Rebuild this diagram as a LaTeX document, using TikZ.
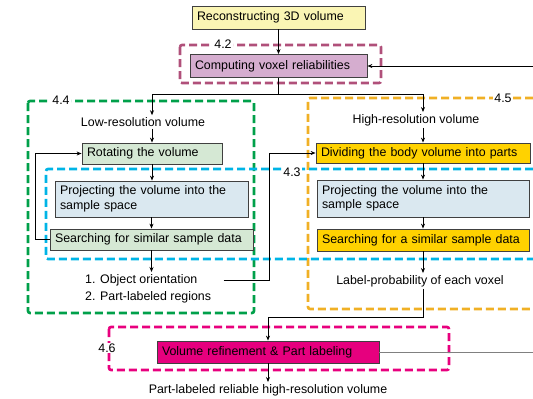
\documentclass[tikz,border=0pt]{standalone}
\usepackage{fontspec}
\setmainfont{Liberation Sans}
\usetikzlibrary{arrows.meta}

\definecolor{reconfill}{HTML}{FAF5B4}
\definecolor{compfill}{HTML}{D5ADCF}
\definecolor{greenfill}{HTML}{D5E8D4}
\definecolor{bluefill}{HTML}{DAE8F0}
\definecolor{goldfill}{HTML}{FFD200}
\definecolor{pinkfill}{HTML}{E6007E}
\definecolor{purpledash}{HTML}{B0507A}
\definecolor{greendash}{HTML}{00A04A}
\definecolor{orangedash}{HTML}{F0B025}
\definecolor{bluedash}{HTML}{00B4E6}
\definecolor{pinkdash}{HTML}{E8007E}

\begin{document}
\begin{tikzpicture}
  [
    x = 1pt, y = -1pt,
    every node/.style = {font = \fontsize{12.4}{14.5}\selectfont, inner sep = 2pt},
    stepbox/.style = {draw = black!75, line width = 0.8pt, align = left,
        inner xsep = 5pt, inner ysep = 1pt},
    group/.style = {line width = 2.6pt, dash pattern = on 8pt off 4pt,
        rounded corners = 2pt},
    grouplabel/.style = {fill = white, inner sep = 1pt},
    arr/.style = {-{Stealth[length = 5pt, width = 4pt]}, line width = 0.9pt},
  ]

  \useasboundingbox (0,0) rectangle (533,399);
  \clip (0,0) rectangle (533,399);

  \draw [group, purpledash] (180,45) rectangle (381,83);
  \draw [group, greendash] (28,101) rectangle (254,313);
  \draw [group, orangedash] (545,98) -- (308,98) -- (308,309) -- (545,309);
  \draw [group, bluedash] (545,169) -- (46,169) -- (46,259) -- (545,259);
  \draw [group, pinkdash] (109,327) rectangle (449,370);

  \node [grouplabel] (lab42) at (223,44) {4.2};
  \node [grouplabel] (lab44) at (61,100) {4.4};
  \node [grouplabel] (lab45) at (503,98) {4.5};
  \node [grouplabel] (lab43) at (292,172) {4.3};
  \node [grouplabel] (lab46) at (107,348) {4.6};

  \node [stepbox, fill = reconfill, text width = 163pt, minimum height = 23pt]
    (recon) at (278.5,17.5) {Reconstructing 3D volume};
  \node [stepbox, fill = compfill, text width = 167pt, minimum height = 23pt]
    (comp) at (278.5,66) {Computing voxel reliabilities};

  \node (lowres) at (143,122) {Low-resolution volume};
  \node [stepbox, fill = greenfill, text width = 130pt, minimum height = 21pt]
    (rot) at (152,153.5) {Rotating the volume};
  \node [stepbox, fill = bluefill, text width = 183pt, minimum height = 36pt]
    (projL) at (151.5,199) {Projecting the volume into the\\sample space};
  \node [stepbox, fill = greenfill, text width = 193pt, minimum height = 21pt]
    (searchL) at (151.5,239.5) {Searching for similar sample data};
  \node [anchor = west] (out1) at (83,280) {1. Object orientation};
  \node [anchor = west] (out2) at (83,297) {2. Part-labeled regions};

  \node (highres) at (416,120) {High-resolution volume};
  \node [stepbox, fill = goldfill, text width = 204pt, minimum height = 20pt]
    (div) at (423,153) {Dividing the body volume into parts};
  \node [stepbox, fill = bluefill, text width = 202pt, minimum height = 37pt]
    (projR) at (423,198.5) {Projecting the volume into the\\sample space};
  \node [stepbox, fill = goldfill, text width = 202pt, minimum height = 22pt]
    (searchR) at (423,240) {Searching for a similar sample data};
  \node (labprob) at (420,281) {Label-probability of each voxel};

  \node [stepbox, fill = pinkfill, text width = 212pt, minimum height = 22pt]
    (refine) at (268,352) {Volume refinement \& Part labeling};
  \node (final) at (268,390) {Part-labeled reliable high-resolution volume};

  \coordinate (loopin) at (545,66);
  \coordinate (loopout) at (545,353);

  \draw [arr] (recon.south) -- (comp.north);
  \draw [line width = 0.9pt] (comp.south) -- ++(0,16.5) coordinate (split);
  \draw [arr] (split) -| (rot.north |- lowres.north);
  \draw [arr] (split) -| (div.north |- highres.north);
  \draw [arr] (lowres.south -| rot.north) -- (rot.north);
  \draw [arr] (highres.south -| div.north) -- (div.north);

  \draw [arr] (rot.south) -- (projL.north -| rot.south);
  \draw [arr] (projL.south) -- (searchL.north);
  \draw [arr] (searchL.west) -- ++(-14,0) |- (rot.west);
  \draw [arr] (searchL.south) -- (searchL.south |- out1.north);
  \draw [arr] ([xshift = 24pt]out1.east) -- ++(46,0) |- (div.west);

  \draw [arr] (div.south) -- (projR.north);
  \draw [arr] (projR.south) -- (searchR.north);
  \draw [arr] (searchR.south) -- (searchR.south |- labprob.north);
  \draw [arr] (labprob.south -| searchR.south) -- ++(0,28) -| (refine.north);

  \draw [arr] (refine.south) -- (final.north);
  \draw [gray, line width = 0.8pt] (refine.east) -- (loopout |- refine.east);
  \draw [arr] (loopin) -- (comp.east);

\end{tikzpicture}
\end{document}
